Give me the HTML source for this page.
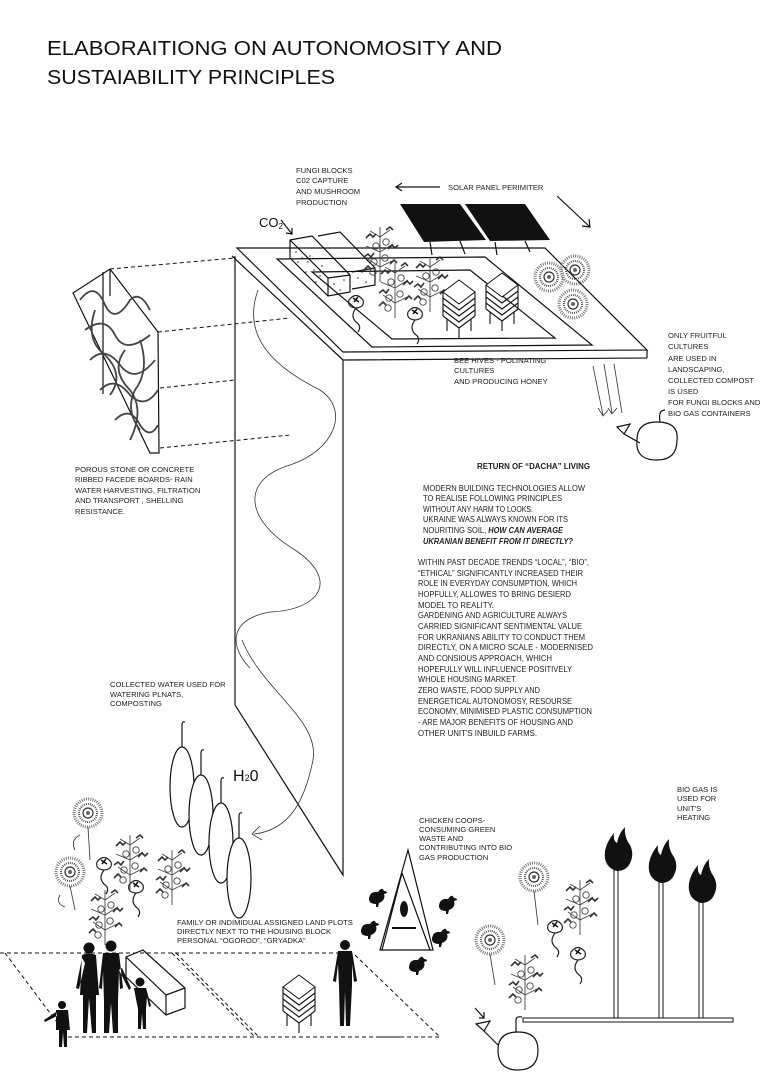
<!DOCTYPE html>
<html><head><meta charset="utf-8"><style>
html,body{margin:0;padding:0;background:#fff;}
svg{display:block;}
.t{font-family:"Liberation Sans",sans-serif;font-size:7.6px;fill:#222;}
.b{font-family:"Liberation Sans",sans-serif;font-size:7.8px;fill:#222;}
.ttl{font-family:"Liberation Sans",sans-serif;font-size:20px;fill:#111;}
.ln{fill:none;stroke:#111;stroke-width:1.2;}
.th{fill:none;stroke:#333;stroke-width:0.8;}
.ds{fill:none;stroke:#111;stroke-width:1;stroke-dasharray:4 3;}
.pl{fill:none;stroke:#444;stroke-width:0.9;}
</style></head><body>
<svg width="763" height="1080" viewBox="0 0 763 1080" xmlns="http://www.w3.org/2000/svg">
<defs>
<g id="sun"><circle r="14" fill="none" stroke="#777" stroke-width="3" stroke-dasharray="1 1.2"/><circle r="9" fill="none" stroke="#555" stroke-width="2" stroke-dasharray="1 1"/><circle r="5" fill="none" stroke="#333" stroke-width="1.2"/><circle r="2" fill="#666"/></g>
<g id="tom"><path d="M0,0 L0,-55 M0,-15 l-12,-8 M0,-15 l12,-6 M0,-30 l-14,-6 M0,-30 l13,-8 M0,-45 l-10,-6 M0,-45 l10,-7" class="pl" stroke-width="1.2"/><path d="M-16,-25 l4,-3 l3,3 l3,-4 M8,-33 l4,-4 l3,3 l3,-3 M-14,-44 l4,-4 l3,3 l3,-3 M6,-52 l4,-3 l3,3 M-16,-12 l4,-4 l3,3 M10,-18 l4,-4 l3,3" fill="none" stroke="#333" stroke-width="1.6"/><circle cx="-6" cy="-20" r="3.2" class="pl"/><circle cx="5" cy="-24" r="3.2" class="pl"/><circle cx="-4" cy="-36" r="3.2" class="pl"/><circle cx="6" cy="-40" r="3.2" class="pl"/><circle cx="-7" cy="-10" r="3.2" class="pl"/></g>
<g id="pep"><path d="M-7,0 q7,-9 14,0 q2,7 -7,8 q-9,-1 -7,-8z M0,8 q-6,8 0,14 q6,4 2,10" fill="none" stroke="#222" stroke-width="1.2"/><path d="M-3,-2 l6,4 M2,-3 l-4,5" stroke="#111" stroke-width="1.5"/></g>
<g id="hen"><path d="M-9,0 q0,-9 9,-8 q4,-6 6,-1 q3,0 3,2 l-3,1 q2,6 -5,9 l-1,4 l-2,0 l0,-3 q-6,0 -7,-4z" fill="#111"/></g>
<path id="flame" d="M0,0 q-14,-4 -12,-20 q2,-10 9,-18 q-1,8 3,10 q2,-10 8,-16 q-1,10 5,18 q5,10 -1,20 q-4,6 -12,6z" fill="#111"/>
<g id="hive"><path d="M0,0 l16,-12 l16,12 l-16,12z" fill="#fff" stroke="#111"/><path d="M0,6 l16,12 l16,-12 M0,12 l16,12 l16,-12 M0,18 l16,12 l16,-12 M0,24 l16,12 l16,-12 M0,0 v24 M32,0 v24 M4,27 v12 M16,36 v10 M28,27 v12" fill="none" stroke="#111" stroke-width="1.1"/></g>
</defs>

<text class="ttl" x="47" y="55" textLength="455" lengthAdjust="spacingAndGlyphs">ELABORAITIONG ON  AUTONOMOSITY  AND</text>
<text class="ttl" x="47" y="84" textLength="288" lengthAdjust="spacingAndGlyphs">SUSTAIABILITY PRINCIPLES</text>

<path class="ln" d="M237,248 L545,248 L647,350 L343,352 Z"/>
<path class="ln" d="M232,256 L343,360 L647,358 M647,350 L647,358"/>
<path class="ln" d="M235,256 L235,705 L343,875 L343,360"/>
<path class="ln" d="M277,259 L485,257 L592,345 L372,347 Z"/>
<path class="ln" d="M312,272 L470,270 L555,338 L392,339 Z"/>
<path class="th" d="M258,290 C240,340 280,370 320,390 C350,410 335,450 290,465 C240,480 245,520 295,550 C340,580 320,610 270,612 C225,620 232,650 250,668"/>
<path class="th" d="M242,640 C262,690 320,720 313,760 C305,800 290,830 254,834"/>
<path class="th" d="M260,826 L252,834 L262,840"/>

<path d="M400,204 L460,204 L486,240 L424,242 Z" fill="#111"/>
<path d="M465,204 L525,204 L550,240 L490,241 Z" fill="#111"/>
<path class="ln" d="M430,242 L432,255 M460,241 L465,254 M495,242 L497,255 M525,241 L530,252"/>
<path class="ln" d="M440,187 L396,187 M402,183 L396,187 L402,191"/>
<path class="ln" d="M557,196 L590,227 M582,226 L590,227 L589,219"/>
<text class="t" x="448" y="190">SOLAR PANEL PERIMITER</text>

<path class="ln" d="M290,240 L312,236 L350,275 L350,292 L328,296 L290,258Z M290,240 L328,278 L328,296 M328,278 L350,275" fill="#fff"/>
<path class="ln" d="M318,236 L340,232 L375,268 L375,285 L352,289 M352,272 L375,268"/>
<g fill="#333"><circle cx="296" cy="252" r=".8"/><circle cx="302" cy="258" r=".8"/><circle cx="308" cy="262" r=".8"/><circle cx="314" cy="270" r=".8"/><circle cx="320" cy="276" r=".8"/><circle cx="298" cy="262" r=".8"/><circle cx="306" cy="272" r=".8"/><circle cx="316" cy="282" r=".8"/><circle cx="334" cy="284" r=".8"/><circle cx="340" cy="290" r=".8"/><circle cx="344" cy="280" r=".8"/><circle cx="358" cy="278" r=".8"/><circle cx="366" cy="282" r=".8"/><circle cx="300" cy="248" r=".8"/><circle cx="310" cy="256" r=".8"/><circle cx="322" cy="266" r=".8"/><circle cx="336" cy="277" r=".8"/><circle cx="362" cy="272" r=".8"/></g>
<text x="259" y="227" style="font-family:'Liberation Sans',sans-serif;font-size:13px;fill:#111">CO<tspan font-size="8" dy="2">2</tspan></text>
<path class="ln" d="M281,220 L292,234 M286,233 L292,234 L292,228"/>
<text class="t" x="296" y="173">FUNGI BLOCKS</text>
<text class="t" x="296" y="183">C02 CAPTURE</text>
<text class="t" x="296" y="194">AND MUSHROOM</text>
<text class="t" x="296" y="205">PRODUCTION</text>

<use href="#tom" x="380" y="282"/><use href="#tom" x="395" y="318"/><use href="#tom" x="430" y="312"/>
<use href="#pep" x="356" y="300"/><use href="#pep" x="415" y="312"/>
<use href="#hive" x="443" y="292"/><use href="#hive" x="486" y="285"/>
<use href="#sun" x="549" y="277"/><use href="#sun" x="575" y="270"/><use href="#sun" x="573" y="304"/>
<text class="t" x="454" y="363">BEE HIVES - POLINATING</text>
<text class="t" x="454" y="373">CULTURES</text>
<text class="t" x="454" y="384">AND PRODUCING HONEY</text>

<path class="ln" d="M73,293 L110,269 L158,332 L159,453 L150,453 Z M103,272 L103,394 M110,269 L110,296" stroke-width="1"/>
<path d="M80,300 q15,-20 25,5 q10,20 25,-5 q10,-10 20,10 M85,330 q20,-15 30,5 q10,20 35,0 M90,360 q15,-15 30,5 q15,20 35,-5 M100,390 q15,-15 30,5 q15,15 28,-5 M115,420 q15,-15 25,5 q10,15 18,0 M95,310 q-10,30 10,45 q20,20 5,40 M125,350 q-15,20 5,40 q15,20 0,50 M140,340 q10,30 -5,50 q-10,20 5,40" fill="none" stroke="#444" stroke-width="1.8"/>
<path class="ds" d="M110,269 L235,258 M158,332 L290,318 M160,388 L235,380 M160,448 L290,435" stroke-dasharray="3 3"/>
<text class="t" x="75" y="472">POROUS STONE OR CONCRETE</text>
<text class="t" x="75" y="482">RIBBED  FACEDE BOARDS- RAIN</text>
<text class="t" x="75" y="493">WATER HARVESTING, FILTRATION</text>
<text class="t" x="75" y="503">AND TRANSPORT , SHELLING</text>
<text class="t" x="75" y="514">RESISTANCE.</text>

<path class="th" d="M593,366 L603,415 M604,364 L612,413 M614,364 L622,413 M598,408 L603,416 L608,410 M608,408 L612,414 L617,408"/>
<path class="ln" d="M637,440 q0,-18 20,-18 q22,0 20,18 q0,20 -20,20 q-22,0 -20,-20z M660,422 q-2,-12 5,-12"/>
<path class="ln" d="M617,427 L630,424 L624,434 Z M624,434 L640,443"/>
<text class="t" x="668" y="338">ONLY FRUITFUL</text>
<text class="t" x="668" y="349">CULTURES</text>
<text class="t" x="668" y="361">ARE  USED  IN</text>
<text class="t" x="668" y="372">LANDSCAPING,</text>
<text class="t" x="668" y="383">COLLECTED  COMPOST</text>
<text class="t" x="668" y="394">IS USED</text>
<text class="t" x="668" y="405">FOR FUNGI BLOCKS AND</text>
<text class="t" x="668" y="416">BIO GAS CONTAINERS</text>

<text class="b" x="477" y="469" font-weight="bold" textLength="113" lengthAdjust="spacingAndGlyphs">RETURN OF “DACHA” LIVING</text>
<g class="b">
<text x="423" y="491" textLength="162" lengthAdjust="spacingAndGlyphs">MODERN BUILDING TECHNOLOGIES ALLOW</text>
<text x="423" y="501" textLength="139" lengthAdjust="spacingAndGlyphs">TO REALISE FOLLOWING  PRINCIPLES</text>
<text x="423" y="512" textLength="110" lengthAdjust="spacingAndGlyphs">WITHOUT ANY HARM TO LOOKS.</text>
<text x="423" y="522" textLength="145" lengthAdjust="spacingAndGlyphs">UKRAINE WAS ALWAYS KNOWN FOR ITS</text>
<text x="423" y="533" textLength="140" lengthAdjust="spacingAndGlyphs">NOURITING  SOIL, <tspan font-weight="bold" font-style="italic">HOW CAN AVERAGE</tspan></text>
<text x="423" y="544" textLength="150" lengthAdjust="spacingAndGlyphs" font-weight="bold" font-style="italic">UKRANIAN BENEFIT FROM IT DIRECTLY?</text>
<text x="418" y="565" textLength="171" lengthAdjust="spacingAndGlyphs">WITHIN PAST DECADE TRENDS “LOCAL”, “BIO”,</text>
<text x="418" y="576" textLength="165" lengthAdjust="spacingAndGlyphs">“ETHICAL” SIGNIFICANTLY INCREASED THEIR</text>
<text x="418" y="586" textLength="159" lengthAdjust="spacingAndGlyphs">ROLE IN EVERYDAY CONSUMPTION, WHICH</text>
<text x="418" y="597" textLength="153" lengthAdjust="spacingAndGlyphs">HOPFULLY, ALLOWES TO BRING  DESIERD</text>
<text x="418" y="608">MODEL TO REALITY.</text>
<text x="418" y="618" textLength="149" lengthAdjust="spacingAndGlyphs">GARDENING AND AGRICULTURE ALWAYS</text>
<text x="418" y="629" textLength="164" lengthAdjust="spacingAndGlyphs">CARRIED SIGNIFICANT SENTIMENTAL VALUE</text>
<text x="418" y="640" textLength="167" lengthAdjust="spacingAndGlyphs">FOR UKRANIANS ABILITY TO CONDUCT THEM</text>
<text x="418" y="650" textLength="175" lengthAdjust="spacingAndGlyphs">DIRECTLY, ON A MICRO SCALE - MODERNISED</text>
<text x="418" y="661" textLength="134" lengthAdjust="spacingAndGlyphs">AND CONSIOUS  APPROACH, WHICH</text>
<text x="418" y="672" textLength="154" lengthAdjust="spacingAndGlyphs">HOPEFULLY WILL INFLUENCE POSITIVELY</text>
<text x="418" y="682" textLength="99" lengthAdjust="spacingAndGlyphs">WHOLE HOUSING MARKET.</text>
<text x="418" y="693" textLength="122" lengthAdjust="spacingAndGlyphs">ZERO WASTE, FOOD SUPPLY AND</text>
<text x="418" y="704" textLength="154" lengthAdjust="spacingAndGlyphs">ENERGETICAL  AUTONOMOSY, RESOURSE</text>
<text x="418" y="714" textLength="174" lengthAdjust="spacingAndGlyphs">ECONOMY, MINIMISED PLASTIC CONSUMPTION</text>
<text x="418" y="725" textLength="155" lengthAdjust="spacingAndGlyphs">- ARE MAJOR BENEFITS OF  HOUSING AND</text>
<text x="418" y="736" textLength="119" lengthAdjust="spacingAndGlyphs">OTHER UNIT'S  INBUILD FARMS.</text>
</g>

<text class="t" x="110" y="687">COLLECTED WATER USED FOR</text>
<text class="t" x="110" y="697">WATERING  PLNATS,</text>
<text class="t" x="110" y="706">COMPOSTING</text>
<g class="ln">
<ellipse cx="182" cy="787" rx="12" ry="40" fill="#fff"/><ellipse cx="201" cy="815" rx="12" ry="40" fill="#fff"/><ellipse cx="221" cy="843" rx="12" ry="40" fill="#fff"/><ellipse cx="239" cy="878" rx="12" ry="40" fill="#fff"/>
<path d="M182,747 v-22 q0,-4 3,-3 M201,775 v-22 q0,-4 3,-3 M221,803 v-22 q0,-4 3,-3 M239,838 v-22 q0,-4 3,-3"/>
</g>
<text x="233" y="781" style="font-family:'Liberation Sans',sans-serif;font-size:16px;fill:#111">H<tspan font-size="9">2</tspan>0</text>

<use href="#sun" x="88" y="813"/><use href="#sun" x="70" y="872"/>
<use href="#tom" x="130" y="890"/><use href="#tom" x="172" y="905"/><use href="#tom" x="105" y="945"/>
<use href="#pep" x="104" y="862"/><use href="#pep" x="136" y="885"/>
<path class="pl" d="M88,827 L90,860 M70,886 L75,910 M80,835 q-10,5 -5,15 M60,895 q-5,8 5,12"/>

<path class="ds" d="M0,953 L340,953 M5,953 L68,1037 L400,1037 M172,953 L255,1037 M176,953 L259,1037 M355,955 L440,1037 L380,1037"/>
<text class="t" x="177" y="925">FAMILY OR INDIMIDUAL ASSIGNED LAND PLOTS</text>
<text class="t" x="177" y="934">DIRECTLY  NEXT TO THE   HOUSING BLOCK</text>
<text class="t" x="177" y="943">PERSONAL “OGOROD”, “GRYADKA”</text>
<path class="ln" d="M126,957 L143,950 L185,988 L185,1008 L166,1015 L126,977Z M126,957 L166,995 L166,1015 M166,995 L185,988" fill="#fff"/>
<g fill="#111">
<circle cx="62" cy="1005" r="4"/><path d="M56,1010 h12 l2,20 h-3 l0,17 h-3 l-1,-15 l-1,15 h-3 l0,-17 h-3z M56,1012 l-12,8 l1,2 l12,-6z"/>
<circle cx="89" cy="948" r="5.5"/><path d="M82,955 q7,-3 14,0 l3,40 l-3,0 l0,38 l-4,0 l-3,-35 l-2,35 l-4,0 l0,-38 l-3,0z M82,958 l-6,30 l3,1 l6,-26z"/>
<circle cx="111" cy="946" r="5.5"/><path d="M103,953 h16 l4,35 l-3,1 l-1,-18 l-1,30 l0,32 l-5,0 l-2,-30 l-2,30 l-5,0 l0,-32 l-1,-30 l-1,18 l-3,-1z M119,970 l10,20 l2,-2 l-9,-20z"/>
<circle cx="140" cy="982" r="4.5"/><path d="M134,988 h12 l5,18 l-2,1 l-2,-10 l-1,12 l0,20 h-3 l-1,-16 l-1,16 h-3 l0,-20 l-2,-10z"/>
<circle cx="345" cy="945" r="5"/><path d="M338,951 h14 l5,30 l-3,1 l-2,-18 l0,22 l-2,40 l-4,0 l-1,-35 l-1,35 l-4,0 l-1,-40 l-1,-22 l-2,18 l-3,-1z"/>
</g>
<use href="#hive" x="283" y="987"/>

<path class="ln" d="M408,850 L380,950 L433,950 Z M402,873 L382,950 M402,873 L430,950" fill="#fff"/>
<ellipse cx="404" cy="909" rx="4" ry="8" fill="#111"/><path d="M392,928 h24" stroke="#111" stroke-width="2"/>
<use href="#hen" x="378" y="900"/><use href="#hen" x="370" y="932"/><use href="#hen" x="448" y="907"/><use href="#hen" x="441" y="940"/><use href="#hen" x="418" y="968"/>
<text class="t" x="419" y="823">CHICKEN COOPS-</text>
<text class="t" x="419" y="832">CONSUMING  GREEN</text>
<text class="t" x="419" y="841">WASTE AND</text>
<text class="t" x="419" y="850">CONTRIBUTING INTO BIO</text>
<text class="t" x="419" y="860">GAS  PRODUCTION</text>

<use href="#sun" x="534" y="877"/><use href="#sun" x="490" y="940"/>
<use href="#tom" x="580" y="935"/><use href="#tom" x="525" y="1010"/>
<use href="#pep" x="555" y="925"/><use href="#pep" x="578" y="952"/>
<path class="pl" d="M534,891 L538,925 M490,954 L495,985"/>

<path d="M523,1018 H733 V1022 H523Z M614,870 H618 V1018 H614Z M659,882 H663 V1018 H659Z M699,902 H703 V1018 H699Z" fill="#fff" stroke="#111" stroke-width="1"/>
<use href="#flame" x="617" y="871"/><use href="#flame" x="661" y="883"/><use href="#flame" x="701" y="903"/>
<path class="ln" d="M498,1050 q0,-18 20,-18 q20,0 20,18 q0,20 -20,20 q-20,0 -20,-20z M516,1032 v-12 q0,-4 6,-3"/>
<path class="ln" d="M476,1024 L490,1021 L484,1031 Z M484,1031 L498,1045 M475,1008 L484,1018 M479,1018 L484,1018 L484,1012"/>
<text class="t" x="677" y="792">BIO GAS IS</text>
<text class="t" x="677" y="801">USED FOR</text>
<text class="t" x="677" y="811">UNIT'S</text>
<text class="t" x="677" y="820">HEATING</text>
</svg>
</body></html>
